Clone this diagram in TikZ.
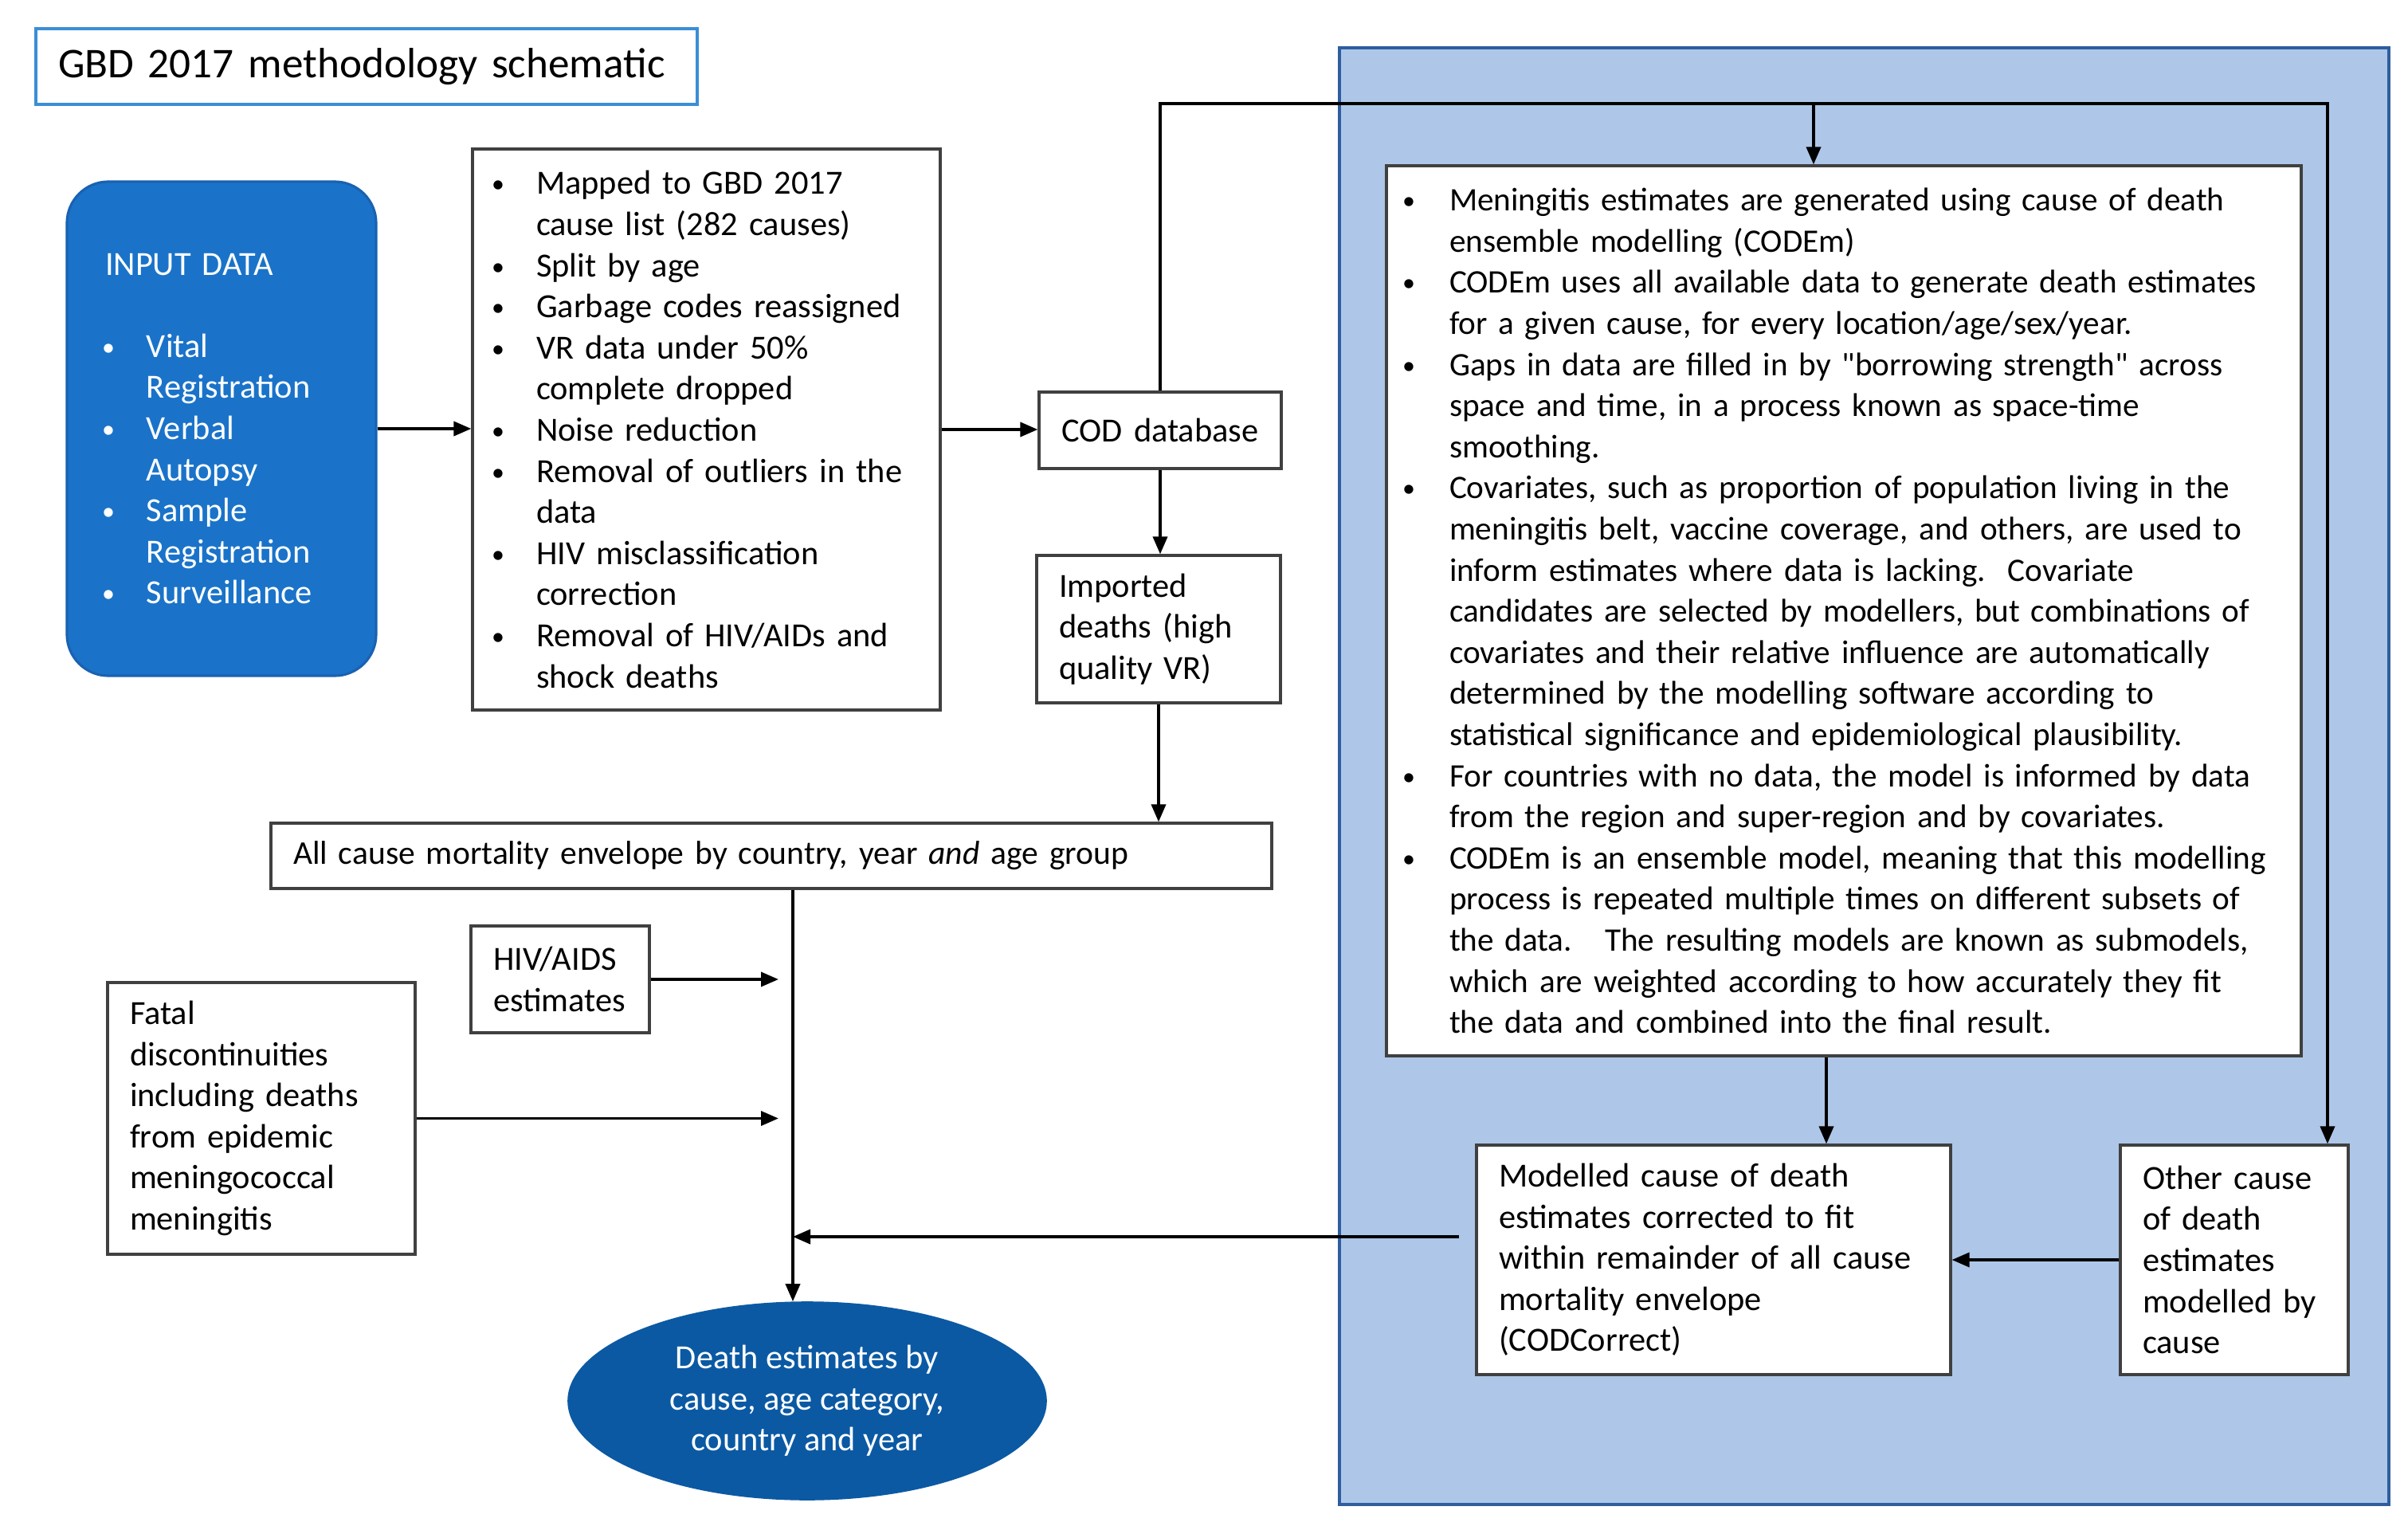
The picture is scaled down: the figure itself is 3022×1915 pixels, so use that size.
\documentclass[tikz,border=0pt]{standalone}
\usepackage{fontspec}
\setmainfont{Carlito}
\usetikzlibrary{arrows.meta,calc,shapes.geometric}
\definecolor{inblue}{HTML}{1A73C9}
\definecolor{inedge}{HTML}{1A62B2}
\definecolor{ellblue}{HTML}{0B59A3}
\definecolor{panelfill}{HTML}{AEC7E8}
\definecolor{paneledge}{HTML}{2E5E9E}
\definecolor{titleedge}{HTML}{3A8ED6}
\definecolor{boxedge}{HTML}{404040}
\hyphenpenalty=10000
\exhyphenpenalty=10000
\newcommand\smallbullet{\raisebox{0.5pt}{\fontsize{8}{8}\selectfont\textbullet}}
\newcommand\bl[2][11pt]{\makebox[#1][l]{\hspace*{-3pt}\smallbullet}\mbox{#2}}
\newcommand\cl[2][11pt]{\hspace*{#1}\mbox{#2}}
\tikzset{
  txt/.style={font=\fontsize{10.6}{12.9}\selectfont},
  plainbox/.style={txt, draw=boxedge, line width=0.8pt, fill=white, align=left,
    inner ysep=0pt, inner xsep=#1},
  plainbox/.default=7pt,
  arr/.style={-{Triangle[length=5.5pt,width=4.5pt]}, line width=0.9pt, draw=black},
}
\begin{document}
\begin{tikzpicture}[x=0.25pt,y=-0.25pt]
\useasboundingbox (0,0) rectangle (3022,1915);
\fill[white] (0,0) rectangle (3022,1915);

% blue panel
\node[draw=paneledge, fill=panelfill, line width=1pt, minimum width=329.25pt, minimum height=457pt, inner sep=0pt] (panel) at (2339.5,974) {};

% title
\node[draw=titleedge, line width=1pt, font=\fontsize{13.3}{15}\selectfont, align=left,
  text width=193.5pt, inner xsep=7pt, minimum height=23.75pt, inner ysep=0pt] (title) at (460,83.5)
  {GBD 2017 methodology schematic};

% input data
\node[txt, draw=inedge, fill=inblue, text=white, line width=0.8pt, rounded corners=13pt, align=left,
  text width=73pt, inner xsep=12pt, minimum height=155pt, inner ysep=0pt] (inp) at (278,538)
  {INPUT DATA\\[12.9pt]
   \hspace*{2pt}\bl{Vital}\\
   \cl[13pt]{Registration}\\
   \hspace*{2pt}\bl{Verbal}\\
   \cl[13pt]{Autopsy}\\
   \hspace*{2pt}\bl{Sample}\\
   \cl[13pt]{Registration}\\
   \hspace*{2pt}\bl{Surveillance}};

% processing
\node[plainbox=9pt, text width=128.75pt, minimum height=176pt] (proc) at (886.5,539)
  {\bl{Mapped to GBD 2017}\\
   \cl{cause list (282 causes)}\\
   \bl{Split by age}\\
   \bl{Garbage codes reassigned}\\
   \bl{VR data under 50\%}\\
   \cl{complete dropped}\\
   \bl{Noise reduction}\\
   \bl{Removal of outliers in the}\\
   \cl{data}\\
   \bl{HIV misclassification}\\
   \cl{correction}\\
   \bl{Removal of HIV/AIDs and}\\
   \cl{shock deaths}};

% COD database
\node[plainbox, align=center, text width=62pt, minimum height=24pt] (cod) at (1456,540) {COD database};

% imported
\node[plainbox, text width=62.5pt, minimum height=46.25pt] (imp) at (1454,789.5)
  {Imported\\deaths (high\\quality VR)};

% envelope
\node[plainbox, font=\fontsize{10.4}{12.9}\selectfont, text width=300pt, minimum height=20.5pt] (env) at (968,1074)
  {All cause mortality envelope by country, year \textit{and} age group};

% HIV
\node[plainbox, text width=42pt, minimum height=33.5pt] (hiv) at (703,1229)
  {HIV/AIDS\\estimates};

% fatal
\node[plainbox, text width=82.5pt, minimum height=85.25pt] (fat) at (328,1403.5)
  {Fatal\\discontinuities\\including deaths\\from epidemic\\meningococcal\\meningitis};

% result ellipse
\node[ellipse, fill=ellblue, draw=ellblue, text=white, txt, align=center,
  minimum width=150pt, minimum height=62pt, inner sep=0pt] (ell) at (1013,1758)
  {Death estimates by\\cause, age category,\\country and year};

% meningitis
\node[plainbox=8pt, font=\fontsize{10.3}{12.9}\selectfont, text width=271pt, minimum height=279.25pt] (men) at (2314,766.5)
  {\bl[11.75pt]{Meningitis estimates are generated using cause of death}\\
   \cl[11.75pt]{ensemble modelling (CODEm)}\\
   \bl[11.75pt]{CODEm uses all available data to generate death estimates}\\
   \cl[11.75pt]{for a given cause, for every location/age/sex/year.}\\
   \bl[11.75pt]{Gaps in data are filled in by \textquotedbl borrowing strength\textquotedbl{} across}\\
   \cl[11.75pt]{space and time, in a process known as space-time}\\
   \cl[11.75pt]{smoothing.}\\
   \bl[11.75pt]{Covariates, such as proportion of population living in the}\\
   \cl[11.75pt]{meningitis belt, vaccine coverage, and others, are used to}\\
   \cl[11.75pt]{inform estimates where data is lacking.\ \ Covariate}\\
   \cl[11.75pt]{candidates are selected by modellers, but combinations of}\\
   \cl[11.75pt]{covariates and their relative influence are automatically}\\
   \cl[11.75pt]{determined by the modelling software according to}\\
   \cl[11.75pt]{statistical significance and epidemiological plausibility.}\\
   \bl[11.75pt]{For countries with no data, the model is informed by data}\\
   \cl[11.75pt]{from the region and super-region and by covariates.}\\
   \bl[11.75pt]{CODEm is an ensemble model, meaning that this modelling}\\
   \cl[11.75pt]{process is repeated multiple times on different subsets of}\\
   \cl[11.75pt]{the data.\ \ \ The resulting models are known as submodels,}\\
   \cl[11.75pt]{which are weighted according to how accurately they fit}\\
   \cl[11.75pt]{the data and combined into the final result.}};

% modelled
\node[plainbox, text width=134.75pt, minimum height=72pt] (mod) at (2150.5,1581)
  {Modelled cause of death\\estimates corrected to fit\\within remainder of all cause\\mortality envelope\\(CODCorrect)};

% other
\node[plainbox, text width=57.5pt, minimum height=72pt] (oth) at (2804,1581)
  {Other cause\\of death\\estimates\\modelled by\\cause};

% coordinates
\coordinate (topR) at (2921,130);
\coordinate (br) at (2276,130);
\coordinate (vl) at ($(env.south)+(27,0)$);
\coordinate (ml) at ($(mod.west)+(-20,-29)$);
\coordinate (mx) at ($(men.south)+(-22,0)$);

% connectors
\draw[arr] (inp.east) -- (inp.east -| proc.west);
\draw[arr] (proc.east) -- (proc.east -| cod.west);
\draw[arr] (cod.north) |- (topR) -- (topR |- oth.north);
\draw[arr] (br) -- (br |- men.north);
\draw[arr] (cod.south) -- (cod.south |- imp.north);
\draw[arr] (imp.south) -- (imp.south |- env.north);
\draw[arr] (vl) -- (vl |- ell.north);
\draw[arr, shorten >=4.5pt] (hiv.east) -- (hiv.east -| vl);
\draw[arr, shorten >=4.5pt] (fat.east) -- (fat.east -| vl);
\draw[arr] (ml) -- (ml -| vl);
\draw[arr] (mx) -- (mx |- mod.north);
\draw[arr] (oth.west) -- (mod.east);
\end{tikzpicture}
\end{document}
